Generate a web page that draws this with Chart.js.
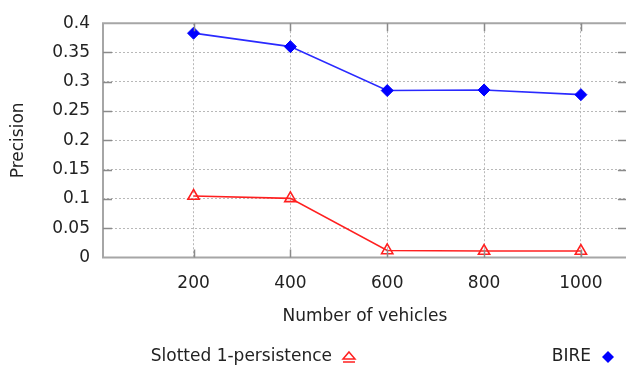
<!DOCTYPE html>
<html>
<head>
<meta charset="utf-8">
<script src="https://cdn.jsdelivr.net/npm/chart.js@4/dist/chart.umd.min.js"></script>
<style>
  html, body { margin: 0; padding: 0; background: #fff; overflow: hidden; }
  #wrap { width: 635px; height: 366px; position: relative; }
</style>
</head>
<body>
<div id="wrap"><canvas id="c"></canvas></div>
<script>
// Number of vehicles on the road
const vehicles = [200, 400, 600, 800, 1000];
// Precision of each scheme
const bire = [0.383, 0.360, 0.285, 0.286, 0.278];
const slotted = [0.105, 0.101, 0.012, 0.011, 0.011];
// Y axis tick values
const yTicks = [0, 0.05, 0.1, 0.15, 0.2, 0.25, 0.3, 0.35, 0.4];

const FONT = 'DejaVu Sans';
const TEXT = '#222';
const FRAME = '#a6a6a6';
const GRID = '#b8b8b8';

const toPoints = (xs, ys) => xs.map((x, i) => ({ x, y: ys[i] }));

// Frame, inner tick marks and the key below the axes
const framePlugin = {
  id: 'frame',
  afterDatasetsDraw(chart) {
    const { ctx, chartArea: a, scales: { x, y } } = chart;
    ctx.save();
    ctx.strokeStyle = FRAME;
    ctx.lineWidth = 2;
    ctx.beginPath();
    ctx.moveTo(a.right + 2, a.top); ctx.lineTo(a.left, a.top);
    ctx.lineTo(a.left, a.bottom); ctx.lineTo(a.right + 2, a.bottom);
    ctx.stroke();
    ctx.strokeStyle = '#8a8a8a';
    ctx.lineWidth = 1.5;
    ctx.beginPath();
    vehicles.forEach(v => {
      const px = Math.round(x.getPixelForValue(v)) + 0.5;
      ctx.moveTo(px, a.bottom); ctx.lineTo(px, a.bottom - 8);
      ctx.moveTo(px, a.top); ctx.lineTo(px, a.top + 8);
    });
    yTicks.slice(1, -1).forEach(t => {
      const py = Math.round(y.getPixelForValue(t)) + 0.5;
      ctx.moveTo(a.left, py); ctx.lineTo(a.left + 9, py);
      ctx.moveTo(a.right, py); ctx.lineTo(a.right - 9, py);
    });
    ctx.stroke();
    ctx.restore();
  },
  afterDraw(chart) {
    const { ctx } = chart;
    const ky = 357;
    ctx.save();
    ctx.font = '17px "' + FONT + '"';
    ctx.fillStyle = TEXT;
    ctx.textBaseline = 'middle';
    ctx.textAlign = 'right';
    chart.data.datasets.forEach(ds => {
      ctx.fillText(ds.label, ds.keyX - 17, ky);
      ctx.save();
      ctx.strokeStyle = ds.borderColor;
      ctx.fillStyle = ds.pointBackgroundColor;
      ctx.lineWidth = 1.5;
      ctx.beginPath();
      if (ds.pointStyle === 'triangle') {
        ctx.moveTo(ds.keyX, ky - 5);
        ctx.lineTo(ds.keyX + 6, ky + 2);
        ctx.lineTo(ds.keyX - 6, ky + 2);
        ctx.closePath();
        ctx.moveTo(ds.keyX - 6, ky + 5);
        ctx.lineTo(ds.keyX + 6, ky + 5);
        ctx.stroke();
      } else {
        ctx.moveTo(ds.keyX, ky - 6);
        ctx.lineTo(ds.keyX + 6, ky);
        ctx.lineTo(ds.keyX, ky + 6);
        ctx.lineTo(ds.keyX - 6, ky);
        ctx.closePath();
        ctx.fill();
      }
      ctx.restore();
    });
    ctx.restore();
  }
};

new Chart(document.getElementById('c'), {
  type: 'line',
  data: {
    datasets: [
      {
        label: 'Slotted 1-persistence',
        data: toPoints(vehicles, slotted),
        borderColor: '#ff2020',
        borderWidth: 1.6,
        pointStyle: 'triangle',
        pointRadius: 6.5,
        pointBorderWidth: 1.6,
        pointBackgroundColor: 'rgba(255,255,255,0)',
        pointBorderColor: '#ff2020',
        keyX: 349
      },
      {
        label: 'BIRE',
        data: toPoints(vehicles, bire),
        borderColor: '#2a2aff',
        borderWidth: 1.6,
        pointStyle: 'rectRot',
        pointRadius: 6,
        pointBorderWidth: 1,
        pointBackgroundColor: '#0000ff',
        pointBorderColor: '#0000ff',
        keyX: 608
      }
    ]
  },
  options: {
    responsive: true,
    maintainAspectRatio: false,
    animation: false,
    layout: { padding: { top: 15, right: 0, bottom: 30, left: 0 } },
    plugins: { legend: { display: false }, tooltip: { enabled: false } },
    scales: {
      x: {
        type: 'linear',
        min: 13,
        max: 1095,
        afterBuildTicks: s => { s.ticks = vehicles.map(v => ({ value: v })); },
        afterFit: s => { s.height = 78.5; s.paddingLeft = 0; s.paddingRight = 0; },
        border: { display: false, dash: [2, 2] },
        grid: {
          drawTicks: false,
          color: GRID,
          lineWidth: 1
        },
        ticks: {
          padding: 16,
          color: TEXT,
          font: { family: FONT, size: 17 },
          maxRotation: 0,
          callback: v => String(v)
        },
        title: {
          display: true,
          text: 'Number of vehicles',
          color: TEXT,
          font: { family: FONT, size: 17 },
          padding: { top: 0, bottom: 9 }
        }
      },
      y: {
        min: 0,
        max: 0.4,
        afterBuildTicks: s => { s.ticks = yTicks.map(v => ({ value: v })); },
        afterFit: s => { s.width = 103; },
        border: { display: false, dash: [2, 2] },
        grid: {
          drawTicks: false,
          color: c => (c.tick && (c.tick.value === 0 || c.tick.value === 0.4)) ? 'rgba(0,0,0,0)' : GRID,
          lineWidth: 1
        },
        ticks: {
          padding: 13,
          color: TEXT,
          font: { family: FONT, size: 17 },
          callback: v => String(Math.round(v * 100) / 100)
        },
        title: {
          display: true,
          text: 'Precision',
          color: TEXT,
          font: { family: FONT, size: 17 },
          padding: { top: 8, bottom: 0 }
        }
      }
    }
  },
  plugins: [framePlugin]
});
</script>
</body>
</html>
